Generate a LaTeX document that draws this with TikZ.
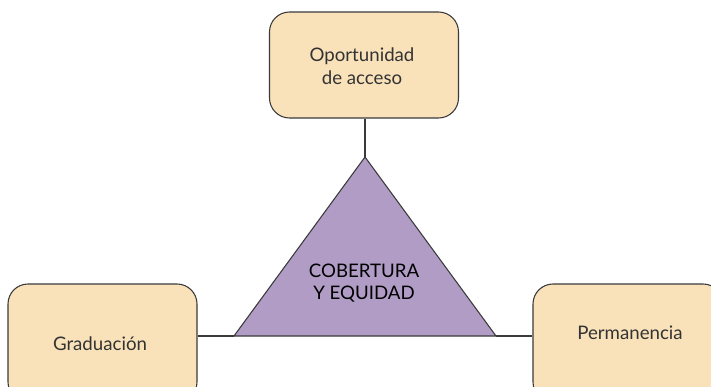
\documentclass[tikz,border=0pt]{standalone}
\usepackage{fontspec}
\setmainfont{Lato}
\definecolor{boxfill}{HTML}{F9E2BA}
\definecolor{trifill}{HTML}{B19CC6}
\definecolor{edge}{HTML}{3A3A3A}
\definecolor{txt}{HTML}{333333}
\begin{document}
\begin{tikzpicture}[x=0.75pt,y=-0.75pt,
  box/.style={draw=edge,line width=0.8pt,fill=boxfill,rounded corners=15pt,inner sep=0pt},
  lbl/.style={text=txt,font=\fontsize{14}{17}\selectfont,align=center,inner sep=0pt},
  conn/.style={draw=edge,line width=0.8pt}]
\clip (0,0) rectangle (711,386);
\fill[white] (0,0) rectangle (711,386);
% boxes
\node[box,minimum width=189*0.75pt,minimum height=106*0.75pt] (top) at (364,65) {};
\node[box,minimum width=189*0.75pt,minimum height=118*0.75pt] (left) at (102.5,343) {};
\node[box,minimum width=190*0.75pt,minimum height=118*0.75pt] (right) at (628,343) {};
% triangle
\coordinate (apex) at (365,157);
\coordinate (bl) at (234,336);
\coordinate (br) at (496,336);
\draw[draw=edge,line width=0.8pt,fill=trifill,line join=miter] (apex) -- (br) -- (bl) -- cycle;
% connectors
\draw[conn] (apex |- top.south) -- (apex);
\draw[conn] (bl -| left.east) -- (bl);
\draw[conn] (br) -- (br -| right.west);
% labels
\node[lbl] (ltop) at (362,66) {Oportunidad\\de acceso};
\node[lbl] (lleft) at (100,344) {Graduación};
\node[lbl] (lright) at (630,333) {Permanencia};
\node[lbl,text=black] (ltri) at (364,283) {COBERTURA\\Y EQUIDAD};
\end{tikzpicture}
\end{document}
